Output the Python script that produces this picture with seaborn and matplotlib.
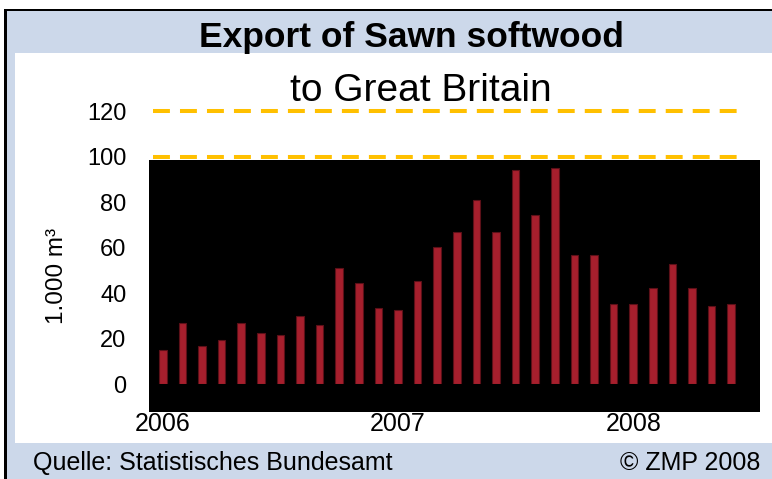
"""
Export of sawn softwood to Great Britain, monthly 2006 - mid 2008.
Writes out.png (772x479).
"""

import matplotlib
matplotlib.use("Agg")
import matplotlib.pyplot as plt
from matplotlib.patches import Rectangle
import pandas as pd
import seaborn as sns

# ── data ──────────────────────────────────────────────────────────────────────
months = [f"{y}-{m:02d}" for y in (2006, 2007, 2008) for m in range(1, 13)][:30]
volume = [15, 27, 17, 19.5, 27, 22.5, 21.5, 30, 26, 51, 44.5, 33.5,
          32.5, 45.5, 60.5, 67, 81, 67, 94, 74.5, 95, 57, 57, 35.5,
          35.5, 42.5, 53, 42.5, 34.5, 35.5]
year_ticks = [0, 12, 24]
year_labels = ["2006", "2007", "2008"]
y_ticks = [0, 20, 40, 60, 80, 100, 120]

BAR_RED = "#A61F2D"
BAND_BLUE = "#CCD8EA"
GOLD = "#FFC000"

W, H = 772, 479

sns.set_theme(style="white")
plt.rcParams["font.family"] = ["Liberation Sans", "DejaVu Sans"]
plt.rcParams.update({"text.color": "black", "xtick.color": "black",
                     "ytick.color": "black"})


def fx(px):
    return px / W


def fy(py):
    # pixel rows counted from the top
    return 1 - py / H


def box(x0, y0, x1, y1, color, **kw):
    return Rectangle((fx(x0), fy(y1)), fx(x1) - fx(x0), fy(y0) - fy(y1),
                     transform=fig.transFigure, facecolor=color,
                     edgecolor="none", **kw)


df = pd.DataFrame({"month": months, "volume": volume})

fig = plt.figure(figsize=(W / 100, H / 100), dpi=100)

# frame: blue title/footer bands, thin blue strip + black border on the left
fig.patches.append(box(5, 10, W, 53, BAND_BLUE, zorder=-5))
fig.patches.append(box(5, 443, W, H, BAND_BLUE, zorder=-5))
fig.patches.append(box(5, 10, 15, H, BAND_BLUE, zorder=-5))
fig.patches.append(box(4, 9, 7, H, "black", zorder=-4))
fig.patches.append(box(4, 9, W, 11, "black", zorder=-4))

# axes: data 0 at row 384.3, 2.276 px per unit
zero_row, px_unit = 384.3, 2.276
ymax = 125
top_row = zero_row - ymax * px_unit
ax = fig.add_axes([fx(153), fy(zero_row), fx(741) - fx(153),
                   fy(top_row) - fy(zero_row)])
ax.set_facecolor("none")

sns.barplot(data=df, x="month", y="volume", color=BAR_RED, saturation=1,
            width=0.38, edgecolor="#5C1018", linewidth=0.8, ax=ax, zorder=2)

# black plot area behind the bars (extends a bit beyond the axes)
ax.add_patch(box(149, 160, 760, 412, "black", zorder=1, clip_on=False))

ax.set_ylim(0, ymax)
ax.set_xlim(-0.5, len(months) - 0.5)
ax.set_yticks(y_ticks)
ax.set_yticklabels([str(v) for v in y_ticks], fontsize=17)
ax.set_xticks(year_ticks)
ax.set_xticklabels(year_labels, fontsize=18)
ax.tick_params(axis="y", length=0, pad=19)
ax.tick_params(axis="x", length=0, pad=20)
ax.set_xlabel("")
ax.set_ylabel("")
for s in ax.spines.values():
    s.set_visible(False)

ax.set_axisbelow(True)
ax.yaxis.grid(True, color=GOLD, linewidth=2.9, linestyle=(0, (4.2, 2.5)))
ax.xaxis.grid(False)

# texts
fig.text(fx(57), fy(276), "1.000 m³", rotation=90, fontsize=17.5,
         ha="center", va="center")
fig.text(fx(411), fy(46.5), "Export of Sawn softwood", fontsize=25.5,
         fontweight="bold", ha="center", va="baseline")
fig.text(fx(421), fy(101), "to Great Britain", fontsize=28,
         ha="center", va="baseline")
fig.text(fx(33), fy(470), "Quelle: Statistisches Bundesamt", fontsize=18,
         ha="left", va="baseline")
fig.text(fx(760), fy(470), "© ZMP 2008", fontsize=18,
         ha="right", va="baseline")

fig.savefig("out.png", dpi=100)
plt.close(fig)
